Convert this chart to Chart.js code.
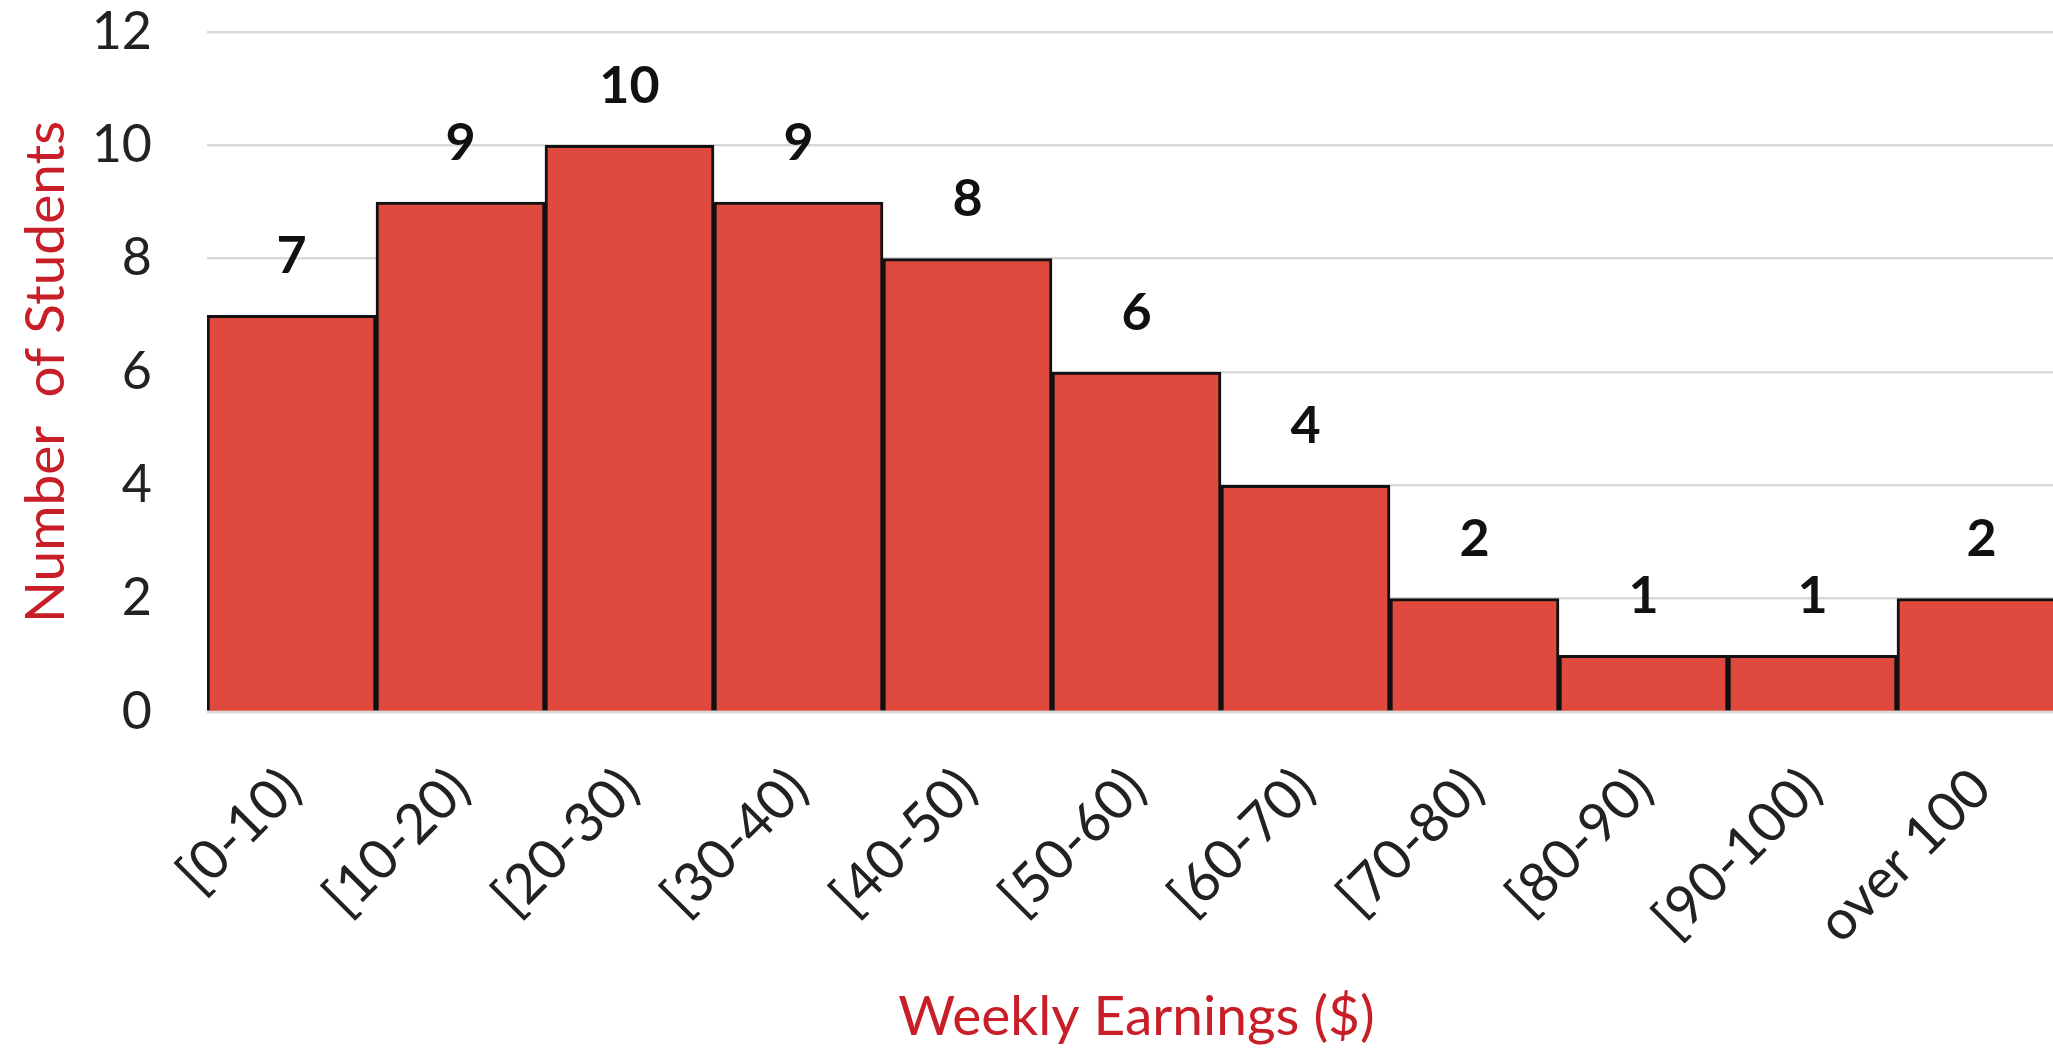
<!DOCTYPE html>
<html>
<head>
<meta charset="utf-8">
<script src="https://cdn.jsdelivr.net/npm/chart.js@4.4.1/dist/chart.umd.min.js"></script>
<style>
  html, body { margin: 0; padding: 0; background: #fff; overflow: hidden; }
  #wrap { width: 2066px; height: 1050px; }
</style>
</head>
<body>
<div id="wrap"><canvas id="histChart" width="2066" height="1050"></canvas></div>
<script>
// dados do histograma
const categorias = ['[0-10)', '[10-20)', '[20-30)', '[30-40)', '[40-50)', '[50-60)', '[60-70)', '[70-80)', '[80-90)', '[90-100)', 'over 100'];
const alunos = [7, 9, 10, 9, 8, 6, 4, 2, 1, 1, 2];
const yTicks = [0, 2, 4, 6, 8, 10, 12];

const fonte = 'Lato, "Open Sans", sans-serif';
const vermelho = '#C81E28';

// rótulos acima das barras
const rotulosBarras = {
  id: 'rotulosBarras',
  afterDatasetsDraw(chart) {
    const { ctx } = chart;
    const meta = chart.getDatasetMeta(0);
    ctx.save();
    ctx.font = 'bold 52px ' + fonte;
    ctx.fillStyle = '#111';
    ctx.textAlign = 'center';
    ctx.textBaseline = 'middle';
    meta.data.forEach((bar, i) => {
      ctx.fillText(alunos[i], bar.x, bar.y - 59);
    });
    ctx.restore();
  }
};

const ctx = document.getElementById('histChart').getContext('2d');
const histChart = new Chart(ctx, {
  type: 'bar',
  data: {
    labels: categorias,
    datasets: [{
      data: alunos,
      backgroundColor: 'rgb(224,74,62)',
      borderColor: '#111',
      borderWidth: 3,
      borderSkipped: 'bottom',
      categoryPercentage: 1,
      barPercentage: 1
    }]
  },
  options: {
    responsive: false,
    animation: false,
    layout: { padding: 0 },
    plugins: {
      legend: { display: false },
      tooltip: { enabled: false }
    },
    scales: {
      x: {
        grid: { display: false },
        border: { display: false },
        ticks: {
          color: '#222',
          font: { family: fonte, size: 55 },
          minRotation: 45,
          maxRotation: 45,
          padding: 36
        },
        title: {
          display: true,
          text: 'Weekly Earnings ($)',
          color: vermelho,
          font: { family: fonte, size: 55 },
          padding: { top: 0, bottom: 0 }
        },
        afterFit: s => { s.height = 338; s.paddingLeft = 0; s.paddingRight = 0; }
      },
      y: {
        min: 0,
        max: 12,
        afterBuildTicks: s => { s.ticks = yTicks.map(v => ({ value: v })); },
        grid: { color: '#d9d9d9', lineWidth: 2.5, drawTicks: false },
        border: { display: false },
        ticks: {
          color: '#222',
          font: { family: fonte, size: 52 },
          padding: 55
        },
        title: {
          display: true,
          text: 'Number  of Students',
          color: vermelho,
          font: { family: fonte, size: 55 },
          padding: { top: 13, bottom: 0 }
        },
        afterFit: s => { s.width = 207; s.paddingTop = 32; s.paddingBottom = 0; }
      }
    }
  },
  plugins: [rotulosBarras]
});
</script>
</body>
</html>
